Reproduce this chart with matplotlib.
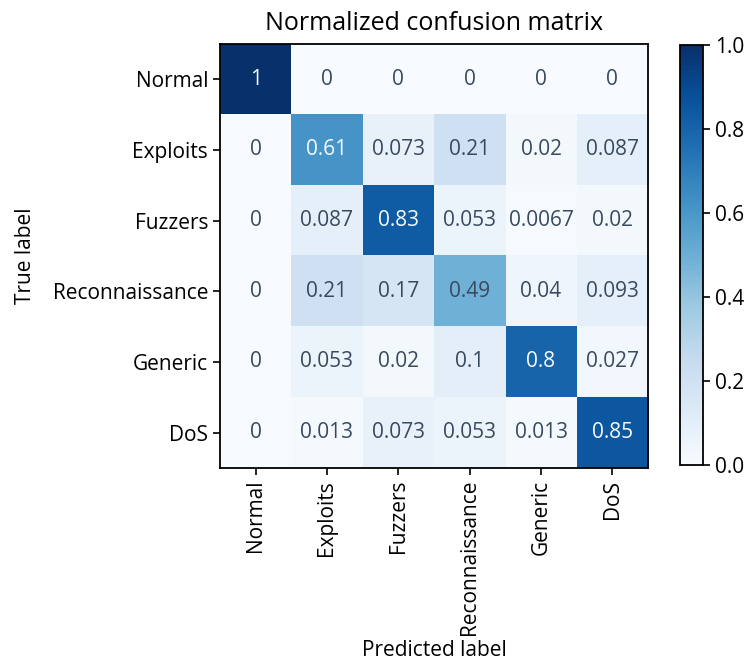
import numpy as np
import matplotlib
matplotlib.use("Agg")
import matplotlib.pyplot as plt

labels = ["Normal", "Exploits", "Fuzzers", "Reconnaissance", "Generic", "DoS"]
cm = np.array([
    [1, 0, 0, 0, 0, 0],
    [0, 0.61, 0.073, 0.21, 0.02, 0.087],
    [0, 0.087, 0.83, 0.053, 0.0067, 0.02],
    [0, 0.21, 0.17, 0.49, 0.04, 0.093],
    [0, 0.053, 0.02, 0.1, 0.8, 0.027],
    [0, 0.013, 0.073, 0.053, 0.013, 0.85],
])

plt.rcParams['font.family'] = ['Open Sans', 'DejaVu Sans']
plt.rcParams['font.size'] = 15

fig = plt.figure(figsize=(7.47, 6.64), dpi=100)
ax = fig.add_axes([0.2945, 0.2952, 0.573, 0.6386])
cax = fig.add_axes([0.910, 0.2997, 0.0308, 0.6325])

cmap = plt.cm.Blues
im = ax.imshow(cm, cmap=cmap, vmin=0, vmax=1, aspect='auto')
thresh = (cm.max() + cm.min()) / 2
for i in range(cm.shape[0]):
    for j in range(cm.shape[1]):
        col = cmap(0.0) if cm[i, j] > thresh else '#3a4a5e'
        ax.text(j, i, format(cm[i, j], '.2g'), ha='center', va='center',
                color=col, fontsize=15)

ax.set_xticks(range(len(labels)))
ax.set_yticks(range(len(labels)))
ax.set_xticklabels(labels, rotation=90)
ax.set_yticklabels(labels)
ax.tick_params(length=5, width=1.2)
ax.set_title("Normalized confusion matrix", fontsize=18, pad=10)
ax.set_xlabel("Predicted label", fontsize=15)
ax.set_ylabel("True label", fontsize=15)
ax.xaxis.set_label_coords(0.5, -0.405)
ax.yaxis.set_label_coords(-0.43, 0.5)
for s in ax.spines.values():
    s.set_linewidth(1.3)

cb = fig.colorbar(im, cax=cax)
cb.set_ticks([0.0, 0.2, 0.4, 0.6, 0.8, 1.0])
cb.ax.tick_params(length=5, width=1.2)
cb.outline.set_linewidth(1.3)

plt.savefig("out.png", dpi=100)
